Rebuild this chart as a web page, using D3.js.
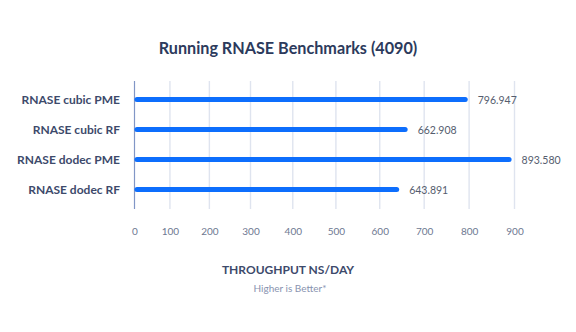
<!DOCTYPE html>
<html>
<head>
<meta charset="utf-8">
<script src="https://cdn.jsdelivr.net/npm/d3@7"></script>
<style>
  html, body { margin: 0; padding: 0; background: #ffffff; }
  svg { display: block; font-family: "Lato", "Open Sans", sans-serif; }
</style>
</head>
<body>
<svg id="chart" width="576" height="332"></svg>
<script>
// Benchmark results (ns/day)
const categories = ["RNASE cubic PME", "RNASE cubic RF", "RNASE dodec PME", "RNASE dodec RF"];
const throughput = [796.947, 662.908, 893.580, 643.891];
const valueLabels = ["796.947", "662.908", "893.580", "643.891"];
const tickValues = [0, 100, 200, 300, 400, 500, 600, 700, 800, 900];

const svg = d3.select("#chart");

const x = d3.scalePow().exponent(1.08).domain([0, 900]).range([134.5, 514.5]);
const y = d3.scalePoint().domain(categories).range([99.5, 189.5]);

// Title
svg.append("text")
  .attr("x", 288).attr("y", 54)
  .attr("text-anchor", "middle")
  .attr("font-size", 16.2).attr("font-weight", 700)
  .attr("fill", "#2c3a5c")
  .text("Running RNASE Benchmarks (4090)");

// Vertical gridlines
svg.append("g")
  .selectAll("line")
  .data(tickValues.slice(1))
  .join("line")
  .attr("x1", d => x(d)).attr("x2", d => x(d))
  .attr("y1", 81).attr("y2", 209)
  .attr("stroke", "#dfe4ef").attr("stroke-width", 1.4);

// Baseline
svg.append("line")
  .attr("x1", x(0)).attr("x2", x(0))
  .attr("y1", 81).attr("y2", 209)
  .attr("stroke", "#8196c6").attr("stroke-width", 1.2);

// Bottom axis labels (no line)
const xAxis = d3.axisBottom(x).tickValues(tickValues).tickSize(0).tickPadding(0);
const gx = svg.append("g").attr("transform", "translate(0,235)").call(xAxis);
gx.select(".domain").remove();
gx.selectAll("text")
  .attr("dy", 0)
  .attr("font-family", "Lato, 'Open Sans', sans-serif")
  .attr("font-size", 10)
  .attr("fill", "#6e7891");

// Bars
svg.append("g")
  .selectAll("line")
  .data(throughput)
  .join("line")
  .attr("x1", x(0) + 2.5)
  .attr("x2", d => x(d) - 2.5)
  .attr("y1", (d, i) => y(categories[i]))
  .attr("y2", (d, i) => y(categories[i]))
  .attr("stroke", "#0d6efd")
  .attr("stroke-width", 5)
  .attr("stroke-linecap", "round");

// Category labels
svg.append("g")
  .selectAll("text")
  .data(categories)
  .join("text")
  .attr("x", 120)
  .attr("y", d => y(d) + 4.5)
  .attr("text-anchor", "end")
  .attr("font-size", 12).attr("font-weight", 700)
  .attr("fill", "#3d4a6b")
  .text(d => d);

// Value labels
svg.append("g")
  .selectAll("text")
  .data(throughput)
  .join("text")
  .attr("x", d => x(d) + 10)
  .attr("y", (d, i) => y(categories[i]) + 4)
  .attr("font-size", 10.5)
  .attr("fill", "#555d6e")
  .text((d, i) => valueLabels[i]);

// Axis title and note
svg.append("text")
  .attr("x", 288).attr("y", 274)
  .attr("text-anchor", "middle")
  .attr("font-size", 12).attr("font-weight", 700)
  .attr("fill", "#3d4a6b")
  .text("THROUGHPUT NS/DAY");

svg.append("text")
  .attr("x", 290).attr("y", 291.5)
  .attr("text-anchor", "middle")
  .attr("font-size", 10)
  .attr("fill", "#8893b0")
  .text("Higher is Better*");
</script>
</body>
</html>
